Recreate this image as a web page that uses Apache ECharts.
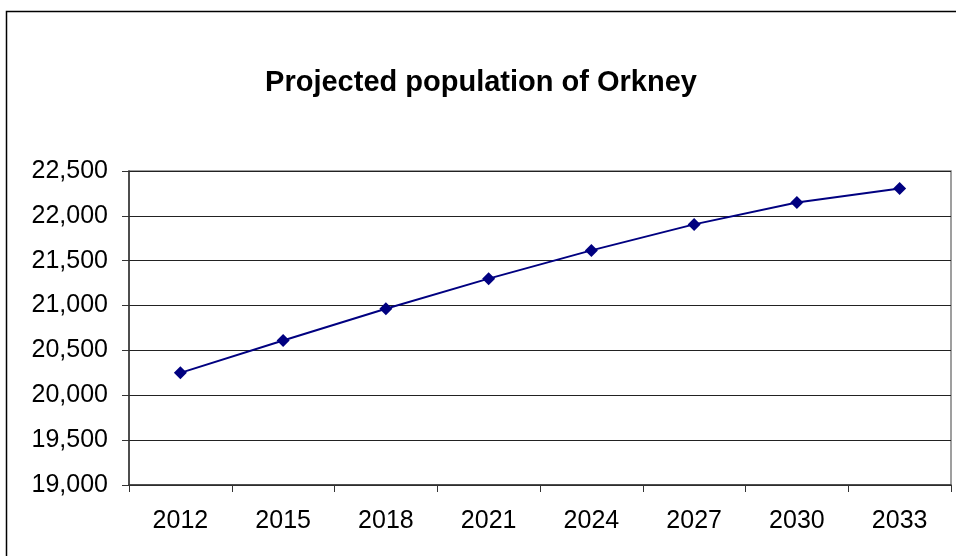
<!DOCTYPE html>
<html>
<head>
<meta charset="utf-8">
<script src="https://cdn.jsdelivr.net/npm/echarts@6/dist/echarts.min.js"></script>
<style>
  html, body { margin: 0; padding: 0; background: #fff; }
  #chart { width: 956px; height: 556px; }
</style>
</head>
<body>
<div id="chart"></div>
<script>
const years = ['2012', '2015', '2018', '2021', '2024', '2027', '2030', '2033'];
const population = [20250, 20610, 20965, 21300, 21615, 21905, 22150, 22305];
const yMin = 19000, yMax = 22500, yStep = 500;

const chart = echarts.init(document.getElementById('chart'), null, { renderer: 'canvas' });
chart.setOption({
  animation: false,
  backgroundColor: '#fff',
  title: {
    text: 'Projected population of Orkney',
    left: 476, top: 63, textAlign: 'center',
    textStyle: { fontFamily: 'Liberation Sans', fontWeight: 'bold', fontSize: 29, color: '#000' }
  },
  graphic: [{
    type: 'rect', shape: { x: 6.5, y: 11.5, width: 1000, height: 1000 },
    style: { fill: 'none', stroke: '#000', lineWidth: 1.5 }, silent: true
  }],
  grid: { left: 129, right: 5, top: 171, bottom: 71, show: true, borderColor: '#808080', borderWidth: 1.5 },
  xAxis: {
    type: 'category', data: years, boundaryGap: true,
    axisLine: { lineStyle: { color: '#333', width: 1.5 } },
    axisTick: { show: true, length: 7, alignWithLabel: false, lineStyle: { color: '#333' } },
    axisLabel: { fontFamily: 'Liberation Sans', fontSize: 25, color: '#000', margin: 24 },
    splitLine: { show: false }
  },
  yAxis: {
    type: 'value', min: yMin, max: yMax, interval: yStep,
    axisLine: { show: true, lineStyle: { color: '#333', width: 1.5 } },
    axisTick: { show: true, length: 7, lineStyle: { color: '#333' } },
    axisLabel: {
      fontFamily: 'Liberation Sans', fontSize: 25, color: '#000', margin: 21,
      formatter: v => v.toLocaleString('en-US')
    },
    splitLine: { show: true, lineStyle: { color: '#222', width: 1 } }
  },
  series: [{
    type: 'line', data: population,
    symbol: 'diamond', symbolSize: 13,
    lineStyle: { color: '#000080', width: 2 },
    itemStyle: { color: '#000080' }
  }]
});
</script>
</body>
</html>
